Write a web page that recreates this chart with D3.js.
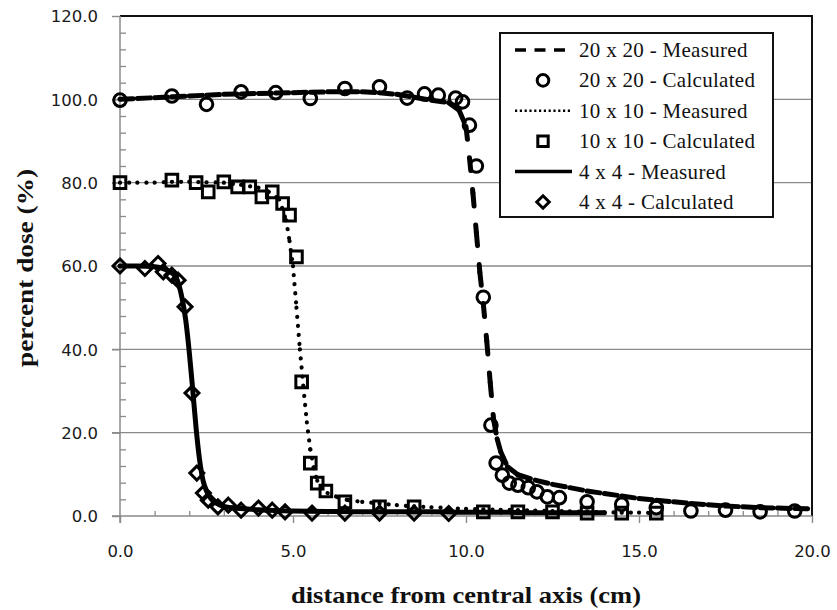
<!DOCTYPE html>
<html><head><meta charset="utf-8">
<script src="https://cdn.jsdelivr.net/npm/d3@7"></script>
<style>body{margin:0;background:#fff}svg{display:block}</style>
</head><body>
<svg id="chart" width="837" height="610"></svg>
<script>
// ---- data ----
const xTickValues = [0, 5, 10, 15, 20];
const xTickLabels = ["0.0", "5.0", "10.0", "15.0", "20.0"];
const yTickValues = [0, 20, 40, 60, 80, 100, 120];
const yTickLabels = ["0.0", "20.0", "40.0", "60.0", "80.0", "100.0", "120.0"];
const xMinorTicks = d3.range(0, 21, 1);
const yMinorTicks = d3.range(0, 121, 4);

const xTitle = "distance from central axis (cm)";
const yTitle = "percent dose (%)";

// 20 x 20 measured (dashed)
const meas20x = [0,0.5,1,1.5,2,2.5,3,3.5,4,4.5,5,5.5,6,6.5,7,7.5,8,8.5,9,9.5,9.8,10,10.1,10.2,10.3,10.4,10.5,10.6,10.7,10.8,10.9,11,11.2,11.5,12,12.5,13,13.5,14,14.5,15,15.5,16,16.5,17,17.5,18,18.5,19,19.5,20];
const meas20y = [100,100.2,100.4,100.6,100.8,101,101.2,101.3,101.4,101.5,101.6,101.7,101.8,101.8,101.8,101.6,101.2,100.5,99.8,99.2,97.4,93.5,86,77.5,68,58.5,51,42,32,23,18.5,15.5,11.8,9.9,8.6,7.6,6.8,6.0,5.4,4.8,4.2,3.8,3.4,3.0,2.7,2.4,2.2,2.0,1.9,1.8,1.7];
// 20 x 20 calculated (circles)
const calc20x = [0,1.5,2.5,3.5,4.5,5.5,6.5,7.5,8.3,8.8,9.2,9.7,9.9,10.1,10.3,10.5,10.72,10.87,11.05,11.25,11.5,11.8,12.05,12.35,12.7,13.5,14.5,15.5,16.5,17.5,18.5,19.5];
const calc20y = [99.8,100.8,98.8,101.8,101.6,100.2,102.6,103,100.3,101.3,101,100.3,99.4,93.8,84,52.5,21.8,12.7,9.8,7.9,7.4,6.8,5.8,4.6,4.4,3.4,2.8,2.0,1.2,1.4,1.0,1.2];

// 10 x 10 measured (dotted)
const meas10x = [0,0.5,1,1.5,2,2.5,3,3.5,4,4.3,4.6,4.8,4.9,5,5.1,5.2,5.3,5.4,5.5,5.6,5.7,5.8,6,6.3,6.6,7,7.5,8,8.5,9,9.5,10,10.5,11,11.5,12,12.5,13,13.5,14,14.5,15,15.5];
const meas10y = [80,80,80,80.2,80.2,80.1,80,79.5,78.8,77.8,76,71,66,60,50,40,31,22.5,16,11.5,8.5,6.8,5.5,4.5,3.8,3.4,3.0,2.6,2.3,2.1,1.9,1.7,1.6,1.5,1.4,1.3,1.2,1.1,1.0,0.9,0.8,0.8,0.7];
// 10 x 10 calculated (squares)
const calc10x = [0,1.5,2.2,2.55,3.0,3.4,3.75,4.1,4.4,4.7,4.9,5.1,5.25,5.5,5.7,5.95,6.5,7.5,8.5,10.5,11.5,12.5,13.5,14.5,15.5];
const calc10y = [80,80.6,80,77.8,80.2,79,79,76.6,77.8,75,72.2,62.2,32.2,12.7,7.9,6.0,3.4,2.2,2.2,1.0,1.0,1.0,0.7,0.7,0.7];

// 4 x 4 measured (solid)
const meas4x = [0,0.5,1,1.2,1.4,1.6,1.7,1.8,1.9,2,2.1,2.2,2.3,2.4,2.5,2.6,2.8,3,3.5,4,4.5,5,6,7,8,9,10,11,12,13,14];
const meas4y = [60,60,59.8,59.5,58.8,57.5,55.5,52,47,39.5,30.5,21,13.5,8.5,6,4.5,3.0,2.3,1.8,1.5,1.3,1.2,1.1,1.0,1.0,1.0,0.9,0.9,0.8,0.8,0.8];
// 4 x 4 calculated (diamonds)
const calc4x = [0,0.72,1.1,1.25,1.5,1.68,1.88,2.08,2.22,2.41,2.55,2.83,3.13,3.5,4.0,4.4,4.77,5.55,6.5,7.5,8.5,9.5];
const calc4y = [60,59.4,60.6,58.6,57.8,56.6,50.2,29.5,10.3,5.5,3.8,2.2,2.6,1.4,1.9,1.4,1.0,0.7,0.7,0.7,0.7,0.6];

const legendLabels = ["20 x 20 - Measured","20 x 20 - Calculated","10 x 10 - Measured","10 x 10 - Calculated","4 x 4 - Measured","4 x 4 - Calculated"];

// ---- layout ----
const W = 837, H = 610;
const m = {left: 120, right: 25, top: 16, bottom: 94};
const svg = d3.select("#chart");
const x = d3.scaleLinear().domain([0, 20]).range([m.left, W - m.right]);
const y = d3.scaleLinear().domain([0, 120]).range([H - m.bottom, m.top]);
const gridColor = "#8a8a8a";

// gridlines
svg.append("g").selectAll("line").data(yTickValues.filter(v => v > 0 && v < 120)).join("line")
  .attr("x1", x(0) - 8).attr("x2", x(20)).attr("y1", d => y(d)).attr("y2", d => y(d))
  .attr("stroke", gridColor).attr("stroke-width", 1.4);

// plot border top & right
svg.append("path").attr("d", `M${x(0)},${y(120)}H${x(20)}V${y(0)}`)
  .attr("fill", "none").attr("stroke", "#111").attr("stroke-width", 2);

// minor ticks
const yMinor = d3.axisRight(y).tickValues(yMinorTicks.filter(v => v % 20 !== 0)).tickSize(6).tickFormat("");
svg.append("g").attr("transform", `translate(${x(0)},0)`).call(yMinor)
  .call(g => g.select(".domain").remove())
  .call(g => g.selectAll("line").attr("stroke", gridColor).attr("stroke-width", 1.3));
const xMinor = d3.axisTop(x).tickValues(xMinorTicks.filter(v => v % 5 !== 0)).tickSize(5).tickFormat("");
svg.append("g").attr("transform", `translate(0,${y(0)})`).call(xMinor)
  .call(g => g.select(".domain").remove())
  .call(g => g.selectAll("line").attr("stroke", gridColor).attr("stroke-width", 1.3));

// major axes
const yAxis = d3.axisLeft(y).tickValues(yTickValues).tickSize(8).tickPadding(14)
  .tickFormat((d, i) => yTickLabels[i]);
svg.append("g").attr("transform", `translate(${x(0)},0)`).call(yAxis)
  .call(g => g.select(".domain").attr("stroke", gridColor).attr("stroke-width", 1.5).attr("d", `M0,${y(120)}V${y(0) + 7}`))
  .call(g => g.selectAll(".tick line").attr("stroke", gridColor).attr("stroke-width", 1.4))
  .call(g => g.selectAll("text").attr("font-family", "DejaVu Sans, sans-serif").attr("font-size", 16.5).attr("fill", "#1a1a1a").attr("dy", "0.36em"));
const xAxis = d3.axisBottom(x).tickValues(xTickValues).tickSize(7).tickPadding(22)
  .tickFormat((d, i) => xTickLabels[i]);
svg.append("g").attr("transform", `translate(0,${y(0)})`).call(xAxis)
  .call(g => g.select(".domain").attr("stroke", gridColor).attr("stroke-width", 1.5).attr("d", `M${x(0) - 8},0H${x(20)}`))
  .call(g => g.selectAll(".tick line").attr("stroke", gridColor).attr("stroke-width", 1.4))
  .call(g => g.selectAll("text").attr("font-family", "DejaVu Sans, sans-serif").attr("font-size", 16.5).attr("fill", "#1a1a1a"));

// axis titles
svg.append("text").attr("x", (x(0) + x(20)) / 2).attr("y", 603).attr("text-anchor", "middle")
  .attr("font-family", "Liberation Serif, Times New Roman, serif").attr("font-weight", "bold").attr("font-size", 23)
  .attr("textLength", 350).attr("lengthAdjust", "spacingAndGlyphs").attr("fill", "#111").text(xTitle);
svg.append("text").attr("transform", `translate(33,${(y(0) + y(120)) / 2 + 2}) rotate(-90)`).attr("text-anchor", "middle")
  .attr("font-family", "Liberation Serif, Times New Roman, serif").attr("font-weight", "bold").attr("font-size", 24)
  .attr("textLength", 198).attr("lengthAdjust", "spacingAndGlyphs").attr("fill", "#111").text(yTitle);

// ---- series ----
const plot = svg.append("g");
function drawLine(xs, ys, style) {
  const pts = xs.map((v, i) => [x(v), y(ys[i])]);
  const g = plot.append("g").attr("fill", "none").attr("stroke", "#000")
    .attr("stroke-width", style.width).attr("stroke-linecap", "round").attr("stroke-linejoin", "round");
  if (!style.dash) {
    g.append("path").attr("d", d3.line().curve(d3.curveMonotoneX)(pts));
  } else {
    // dash pattern restarts on every segment between measured points
    g.selectAll("path").data(d3.pairs(pts)).join("path")
      .attr("d", d => d3.line()(d)).attr("stroke-dasharray", style.dash);
  }
}
const circleSym = d3.symbol().type(d3.symbolCircle).size(Math.PI * 6.5 * 6.5);
function markerPath(type, s) {
  if (type === "circle") return d3.symbol().type(d3.symbolCircle).size(Math.PI * s * s)();
  if (type === "square") return `M${-s},${-s}H${s}V${s}H${-s}Z`;
  const d = s * 1.2;
  return `M0,${-d}L${d},0L0,${d}L${-d},0Z`;
}
function drawMarkers(xs, ys, type) {
  plot.append("g").selectAll("path").data(xs.map((v, i) => [v, ys[i]])).join("path")
    .attr("transform", d => `translate(${x(d[0])},${y(d[1])})`)
    .attr("d", markerPath(type, type === "circle" ? 6.3 : 5.8))
    .attr("fill", "none").attr("stroke", "#000").attr("stroke-width", 3);
}
const lineStyles = [
  {width: 5, dash: "13,19"},
  {width: 4.2, dash: "0.1,9"},
  {width: 5, dash: null}
];
drawLine(meas20x, meas20y, lineStyles[0]);
drawMarkers(calc20x, calc20y, "circle");
drawLine(meas10x, meas10y, lineStyles[1]);
drawMarkers(calc10x, calc10y, "square");
drawLine(meas4x, meas4y, lineStyles[2]);
drawMarkers(calc4x, calc4y, "diamond");

// ---- legend ----
const lg = svg.append("g");
lg.append("rect").attr("x", 500).attr("y", 33).attr("width", 273).attr("height", 184)
  .attr("fill", "#fff").attr("stroke", "#111").attr("stroke-width", 2);
const legendKinds = [
  {line: {w: 3.5, dash: "11,8.5", cap: "butt"}},
  {marker: "circle"},
  {line: {w: 2.5, dash: "2.2,2.6", cap: "butt"}},
  {marker: "square"},
  {line: {w: 3.5, dash: null, cap: "butt"}},
  {marker: "diamond"}
];
legendLabels.forEach((lab, i) => {
  const cy = 50 + i * 30.4;
  const k = legendKinds[i];
  if (k.line) {
    lg.append("line").attr("x1", 515).attr("x2", 572).attr("y1", cy).attr("y2", cy)
      .attr("stroke", "#000").attr("stroke-width", k.line.w).attr("stroke-linecap", k.line.cap)
      .attr("stroke-dasharray", k.line.dash);
  } else {
    lg.append("path").attr("transform", `translate(543,${cy})`)
      .attr("d", markerPath(k.marker, k.marker === "circle" ? 5.8 : 5.2))
      .attr("fill", "none").attr("stroke", "#000").attr("stroke-width", 3);
  }
  lg.append("text").attr("x", 579).attr("y", cy + 7)
    .attr("font-family", "Liberation Serif, Times New Roman, serif").attr("font-size", 21)
    .attr("letter-spacing", 0.3).attr("fill", "#111").text(lab);
});
</script>
</body></html>
